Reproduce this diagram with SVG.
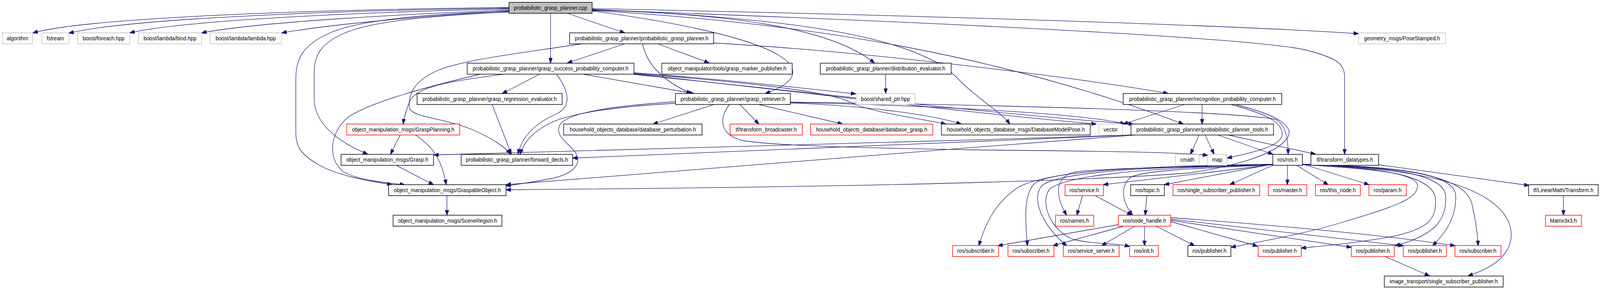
<svg xmlns="http://www.w3.org/2000/svg" width="4277" height="736" viewBox="0 0 4277 736">
<defs>
<marker id="a" markerWidth="14" markerHeight="10" refX="13" refY="5" orient="auto" markerUnits="userSpaceOnUse"><path d="M0,0 L14,5 L0,10 z" fill="#191970" stroke="#191970" stroke-width="1"/></marker>
</defs>
<style>
.n rect{fill:#ffffff;stroke-width:1.5}
.k rect{stroke:#000000}
.r rect{stroke:#ff0000}
.g rect{stroke:#bfbfbf}
.top rect{fill:#bfbfbf;stroke:#000000}
.n text{font-family:"Liberation Sans",Arial,Helvetica,sans-serif;font-size:14px;text-anchor:middle;fill:#000000}
#edges path{fill:none;stroke:#191970;stroke-width:1.3;marker-end:url(#a)}
</style>
<rect width="4277" height="736" fill="#ffffff"/>
<g transform="scale(0.9575,1)">
<g id="edges">
<path d="M1361,19 C900,24 250,42 88,84"/>
<path d="M1361,21 C950,26 350,45 184,85"/>
<path d="M1361,23 C1000,30 500,50 347,84"/>
<path d="M1361,26 C1100,35 700,55 539,84"/>
<path d="M1361,28 C1150,40 900,60 753,84"/>
<path d="M1361,29 C1150,35 960,50 880,85 C810,115 791,150 791,200 L791,340 C791,375 805,395 850,420 C900,448 980,462 1048,472"/>
<path d="M1361,31 C1150,40 990,55 920,85 C860,110 840,140 840,185 L840,250 C840,290 860,320 900,350 C930,372 960,385 983,394"/>
<path d="M1517,34 L1670,84"/>
<path d="M1472,34 L1472,161"/>
<path d="M1583,28 C1800,55 2000,95 2080,140 C2150,180 2120,215 2046,239"/>
<path d="M1583,26 C1950,35 2220,70 2338,161"/>
<path d="M1583,24 C2100,45 2450,90 2560,200 C2610,250 2675,285 2700,317"/>
<path d="M1583,27 C2200,60 2700,150 3164,317"/>
<path d="M1583,22 C2500,40 3300,65 3632,86"/>
<path d="M1583,25 C2600,60 3400,100 3500,130 C3580,150 3595,165 3595,200 L3595,394"/>
<path d="M1670,112 L1517,161"/>
<path d="M1759,112 L1896,161"/>
<path d="M1718,112 C1730,170 1780,210 1848,239"/>
<path d="M1555,112 C1400,135 1250,150 1170,180 C1110,205 1090,240 1095,275 C1100,300 1180,300 1260,330 C1320,355 1350,375 1365,394"/>
<path d="M1908,110 C2300,130 2900,200 3123,239"/>
<path d="M1442,190 L1343,239"/>
<path d="M1561,190 L1855,239"/>
<path d="M1488,190 C1520,230 1530,270 1490,290 C1430,315 1395,350 1385,394"/>
<path d="M1343,190 C1220,205 1110,220 1095,260 C1085,285 1080,300 1078,317"/>
<path d="M1282,190 C1150,220 990,260 930,300 C880,340 875,410 920,440 C960,460 1020,466 1082,472"/>
<path d="M1695,186 C1900,200 2150,225 2288,240"/>
<path d="M1695,188 C2000,210 2220,235 2270,260 C2320,285 2440,300 2529,317"/>
<path d="M1695,189 C2100,230 2600,290 2931,317"/>
<path d="M1695,190 C2200,240 2700,295 3030,317"/>
<path d="M1909,267 L1746,317"/>
<path d="M1978,267 L2029,317"/>
<path d="M1806,264 C1650,272 1520,290 1470,315 C1420,340 1400,365 1391,394"/>
<path d="M1806,260 C1650,270 1530,285 1500,315 C1480,340 1510,360 1530,380 C1560,410 1545,440 1480,455 C1430,465 1390,470 1353,475"/>
<path d="M1950,267 C1925,300 1920,340 1980,358 C2050,372 2300,378 2600,383 C2900,386 3150,388 3229,397"/>
<path d="M2028,267 L2253,317"/>
<path d="M2113,263 C2300,270 2480,290 2570,317"/>
<path d="M2113,262 C2500,270 2900,290 3008,317"/>
<path d="M2113,261 C2700,268 3300,285 3410,305 C3440,320 3444,360 3444,394"/>
<path d="M2368,190 L2368,239"/>
<path d="M3167,267 L3003,317"/>
<path d="M3214,267 L3214,317"/>
<path d="M3291,267 C3380,290 3430,310 3428,345 C3425,375 3340,392 3281,404"/>
<path d="M3303,267 C3420,295 3465,325 3440,355 C3410,395 3300,425 3180,442 C2800,470 2000,480 1353,485"/>
<path d="M1070,345 L1044,394"/>
<path d="M1111,345 C1150,370 1180,400 1193,472"/>
<path d="M1060,423 L1159,472"/>
<path d="M1195,500 L1195,550"/>
<path d="M1316,267 L1367,394"/>
<path d="M3026,345 C2500,362 2140,369 1160,396"/>
<path d="M3030,345 C2500,365 2000,385 1531,404"/>
<path d="M3036,345 C2500,383 2140,413 1353,472"/>
<path d="M3206,345 L3183,394"/>
<path d="M3222,345 L3246,394"/>
<path d="M3256,345 L3403,394"/>
<path d="M3284,345 L3517,394"/>
<path d="M3404,422 L3288,472"/>
<path d="M3442,422 L3442,472"/>
<path d="M3466,422 L3551,472"/>
<path d="M3482,419 L3660,472"/>
<path d="M3404,419 L3113,472"/>
<path d="M3404,420 C3250,440 3100,455 2950,472"/>
<path d="M3404,421 C3200,428 2950,428 2870,440 C2820,455 2820,500 2852,550"/>
<path d="M3404,421 C3200,430 3050,435 3020,455 C2995,480 3000,515 3028,550"/>
<path d="M3404,420 C3000,425 2790,440 2720,480 C2660,520 2635,570 2617,628"/>
<path d="M3404,420 C3000,426 2800,440 2765,470 C2735,500 2742,570 2747,628"/>
<path d="M3404,420 C3000,427 2820,445 2785,475 C2755,510 2790,580 2852,628"/>
<path d="M3404,421 C3050,428 2840,450 2805,485 C2780,520 2810,590 2870,612 C2930,625 2980,620 3020,630"/>
<path d="M3482,421 C3650,430 3790,440 3790,475 C3790,510 3720,530 3600,565 C3480,600 3380,615 3291,632"/>
<path d="M3482,420 C3700,428 3835,450 3838,510 C3840,560 3820,585 3720,605 C3620,622 3540,628 3479,634"/>
<path d="M3482,420 C3720,425 3860,445 3865,500 C3868,560 3840,600 3730,628"/>
<path d="M3482,420 C3750,425 3890,445 3892,500 C3894,560 3860,600 3830,628"/>
<path d="M3482,420 C3800,425 3920,460 3935,520 C3945,560 3950,590 3952,628"/>
<path d="M3482,420 C3850,430 3990,490 4030,560 C4055,610 4040,670 3925,705"/>
<path d="M2894,500 L2879,550"/>
<path d="M2928,500 L3026,550"/>
<path d="M3066,500 L3062,550"/>
<path d="M2990,574 L2668,628"/>
<path d="M3004,578 L2815,628"/>
<path d="M3034,578 L2945,628"/>
<path d="M3060,578 L3060,628"/>
<path d="M3091,578 L3194,628"/>
<path d="M3129,566 L3362,629"/>
<path d="M3129,563 L3613,632"/>
<path d="M3129,560 L3752,628"/>
<path d="M3129,556 C3400,575 3700,600 3890,628"/>
<path d="M3704,656 L3822,705"/>
<path d="M3686,421 L4088,474"/>
<path d="M4180,500 L4180,550"/>
</g>
<g id="n0" class="n top"><rect x="1361" y="6" width="222" height="28"/><text x="1472" y="25">probabilistic_grasp_planner.cpp</text></g>
<g id="n1" class="n g"><rect x="6" y="84" width="81" height="28"/><text x="46.5" y="103">algorithm</text></g>
<g id="n2" class="n g"><rect x="112" y="84" width="72" height="28"/><text x="148" y="103">fstream</text></g>
<g id="n3" class="n g"><rect x="207.5" y="84" width="139" height="28"/><text x="277" y="103">boost/foreach.hpp</text></g>
<g id="n4" class="n g"><rect x="370" y="84" width="169" height="28"/><text x="454.5" y="103">boost/lambda/bind.hpp</text></g>
<g id="n5" class="n g"><rect x="561.5" y="84" width="191" height="28"/><text x="657" y="103">boost/lambda/lambda.hpp</text></g>
<g id="n6" class="n k"><rect x="1523" y="84" width="385" height="28"/><text x="1715.5" y="103">probabilistic_grasp_planner/probabilistic_grasp_planner.h</text></g>
<g id="n7" class="n g"><rect x="3632" y="84" width="233" height="28"/><text x="3748.5" y="103">geometry_msgs/PoseStamped.h</text></g>
<g id="n8" class="n k"><rect x="1249" y="161.5" width="446" height="28"/><text x="1472" y="180.5">probabilistic_grasp_planner/grasp_success_probability_computer.h</text></g>
<g id="n9" class="n k"><rect x="1769.5" y="161.5" width="348.5" height="28"/><text x="1943.75" y="180.5">object_manipulator/tools/grasp_marker_publisher.h</text></g>
<g id="n10" class="n k"><rect x="2193" y="161.5" width="350" height="28"/><text x="2368" y="180.5">probabilistic_grasp_planner/distribution_evaluator.h</text></g>
<g id="n11" class="n k"><rect x="1115" y="239" width="388" height="28"/><text x="1309" y="258">probabilistic_grasp_planner/grasp_regression_evaluator.h</text></g>
<g id="n12" class="n k"><rect x="1806" y="239" width="307" height="28"/><text x="1959.5" y="258">probabilistic_grasp_planner/grasp_retriever.h</text></g>
<g id="n13" class="n g"><rect x="2289" y="239" width="157" height="28"/><text x="2367.5" y="258">boost/shared_ptr.hpp</text></g>
<g id="n14" class="n k"><rect x="3003" y="239" width="424" height="28"/><text x="3215" y="258">probabilistic_grasp_planner/recognition_probability_computer.h</text></g>
<g id="n15" class="n r"><rect x="927" y="317" width="302" height="28"/><text x="1078" y="336">object_manipulation_msgs/GraspPlanning.h</text></g>
<g id="n16" class="n k"><rect x="1507" y="317" width="370" height="28"/><text x="1692" y="336">household_objects_database/database_perturbation.h</text></g>
<g id="n17" class="n r"><rect x="1952" y="317" width="193" height="28"/><text x="2048.5" y="336">tf/transform_broadcaster.h</text></g>
<g id="n18" class="n r"><rect x="2167" y="317" width="327" height="28"/><text x="2330.5" y="336">household_objects_database/database_grasp.h</text></g>
<g id="n19" class="n k"><rect x="2517" y="317" width="398" height="28"/><text x="2716" y="336">household_objects_database_msgs/DatabaseModelPose.h</text></g>
<g id="n20" class="n g"><rect x="2938" y="317" width="63" height="28"/><text x="2969.5" y="336">vector</text></g>
<g id="n21" class="n k"><rect x="3024" y="317" width="381" height="28"/><text x="3214.5" y="336">probabilistic_grasp_planner/probabilistic_planner_tools.h</text></g>
<g id="n22" class="n k"><rect x="912" y="394.5" width="247" height="28"/><text x="1035.5" y="413.5">object_manipulation_msgs/Grasp.h</text></g>
<g id="n23" class="n k"><rect x="1233" y="394.5" width="298" height="28"/><text x="1382" y="413.5">probabilistic_grasp_planner/forward_decls.h</text></g>
<g id="n24" class="n g"><rect x="3143" y="394.5" width="63" height="28"/><text x="3174.5" y="413.5">cmath</text></g>
<g id="n25" class="n g"><rect x="3229" y="394.5" width="51" height="28"/><text x="3254.5" y="413.5">map</text></g>
<g id="n26" class="n k"><rect x="3403" y="394.5" width="79" height="28"/><text x="3442.5" y="413.5">ros/ros.h</text></g>
<g id="n27" class="n k"><rect x="3505" y="394.5" width="181" height="28"/><text x="3595.5" y="413.5">tf/transform_datatypes.h</text></g>
<g id="n28" class="n k"><rect x="1039" y="472" width="314" height="28"/><text x="1196" y="491">object_manipulation_msgs/GraspableObject.h</text></g>
<g id="n29" class="n r"><rect x="2847.5" y="472" width="103" height="28"/><text x="2899" y="491">ros/service.h</text></g>
<g id="n30" class="n k"><rect x="3023" y="472" width="90" height="28"/><text x="3068" y="491">ros/topic.h</text></g>
<g id="n31" class="n r"><rect x="3136" y="472" width="232" height="28"/><text x="3252" y="491">ros/single_subscriber_publisher.h</text></g>
<g id="n32" class="n r"><rect x="3391" y="472" width="103" height="28"/><text x="3442.5" y="491">ros/master.h</text></g>
<g id="n33" class="n r"><rect x="3517" y="472" width="120" height="28"/><text x="3577" y="491">ros/this_node.h</text></g>
<g id="n34" class="n r"><rect x="3660" y="472" width="100" height="28"/><text x="3710" y="491">ros/param.h</text></g>
<g id="n35" class="n k"><rect x="4087" y="472" width="186" height="28"/><text x="4180" y="491">tf/LinearMath/Transform.h</text></g>
<g id="n36" class="n k"><rect x="1051" y="550" width="291" height="28"/><text x="1196.5" y="569">object_manipulation_msgs/SceneRegion.h</text></g>
<g id="n37" class="n r"><rect x="2822" y="550" width="102" height="28"/><text x="2873" y="569">ros/names.h</text></g>
<g id="n38" class="n r"><rect x="2990" y="550" width="140" height="28"/><text x="3060" y="569">ros/node_handle.h</text></g>
<g id="n39" class="n r"><rect x="4132" y="550" width="96" height="28"/><text x="4180" y="569">Matrix3x3.h</text></g>
<g id="n40" class="n r"><rect x="2547" y="627.5" width="123" height="28"/><text x="2608.5" y="646.5">ros/subscriber.h</text></g>
<g id="n41" class="n r"><rect x="2695" y="627.5" width="123" height="28"/><text x="2756.5" y="646.5">ros/subscriber.h</text></g>
<g id="n42" class="n r"><rect x="2843" y="627.5" width="149" height="28"/><text x="2917.5" y="646.5">ros/service_server.h</text></g>
<g id="n43" class="n r"><rect x="3020" y="627.5" width="77" height="28"/><text x="3058.5" y="646.5">ros/init.h</text></g>
<g id="n44" class="n k"><rect x="3176" y="627.5" width="115" height="28"/><text x="3233.5" y="646.5">ros/publisher.h</text></g>
<g id="n45" class="n r"><rect x="3364" y="627.5" width="115" height="28"/><text x="3421.5" y="646.5">ros/publisher.h</text></g>
<g id="n46" class="n r"><rect x="3613" y="627.5" width="115" height="28"/><text x="3670.5" y="646.5">ros/publisher.h</text></g>
<g id="n47" class="n r"><rect x="3752" y="627.5" width="115" height="28"/><text x="3809.5" y="646.5">ros/publisher.h</text></g>
<g id="n48" class="n r"><rect x="3890" y="627.5" width="123" height="28"/><text x="3951.5" y="646.5">ros/subscriber.h</text></g>
<g id="n49" class="n k"><rect x="3701" y="705.5" width="318" height="28"/><text x="3860" y="724.5">image_transport/single_subscriber_publisher.h</text></g>
</g>
</svg>
